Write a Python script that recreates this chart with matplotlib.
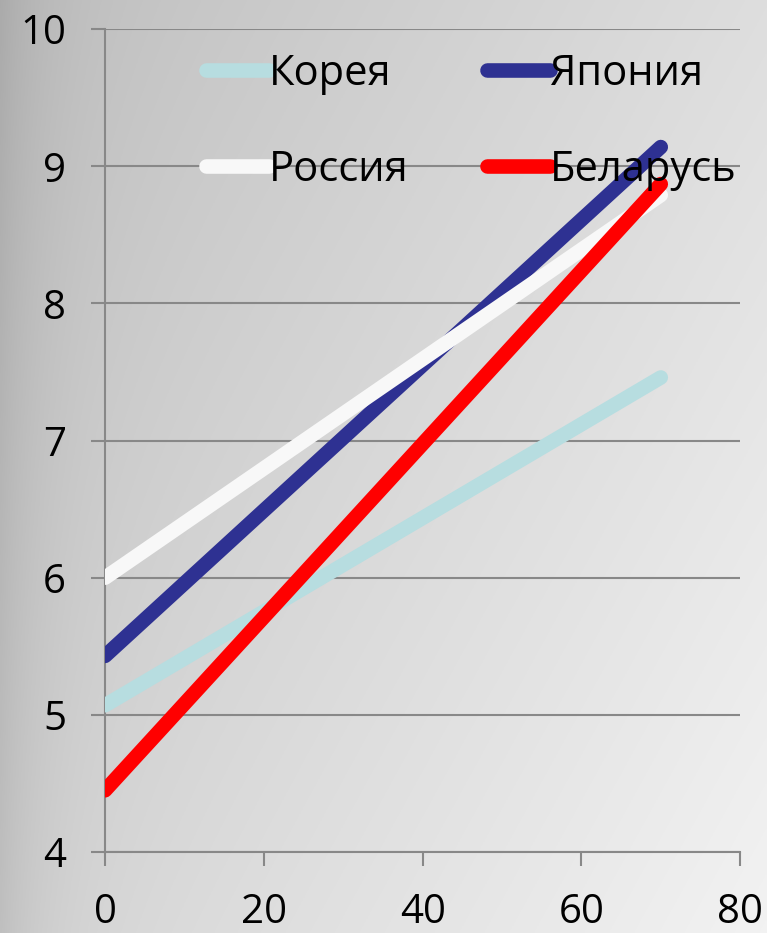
import numpy as np
import matplotlib
matplotlib.use("Agg")
import matplotlib.pyplot as plt
from matplotlib import font_manager

# Series data: value at start (x=0) and at x=70
x_points = [0, 70]
korea = [5.07, 7.46]
japan = [5.43, 9.14]
russia = [6.0, 8.79]
belarus = [4.45, 8.87]

series_names = ["Корея", "Япония", "Россия", "Беларусь"]
series_values = [korea, japan, russia, belarus]
series_colors = ["#b7dde0", "#2e3192", "#f8f8f8", "#ff0000"]

x_ticks = [0, 20, 40, 60, 80]
y_ticks = [4, 5, 6, 7, 8, 9, 10]

available = {f.name for f in font_manager.fontManager.ttflist}
family = [f for f in ["Liberation Sans Narrow", "Open Sans", "DejaVu Sans"] if f in available]
plt.rcParams["font.family"] = family

fig = plt.figure(figsize=(7.67, 9.33), dpi=100)

# gray gradient backdrop
bg = fig.add_axes([0, 0, 1, 1], zorder=-10)
gx, gy = np.meshgrid(np.linspace(0, 1, 400), np.linspace(0, 1, 400))
val = 0.75 + 0.12 * gx + 0.08 * gy
val -= 0.08 * np.exp(-gx / 0.06)
val = np.clip(val, 0, 1)
bg.imshow(np.dstack([val, val, val]), extent=[0, 1, 0, 1], aspect="auto", origin="upper")
bg.set_axis_off()

ax = fig.add_axes([0.137, 0.0868, 0.828, 0.882])
ax.set_facecolor("none")

lines = {}
for name, vals, col in zip(series_names, series_values, series_colors):
    lines[name], = ax.plot(x_points, vals, color=col, lw=10.5, solid_capstyle="round",
                           label=name, zorder=3)

ax.set_xlim(0, 80)
ax.set_ylim(4, 10)
ax.set_xticks(x_ticks)
ax.set_yticks(y_ticks)
ax.set_xticklabels([str(v) for v in x_ticks])
ax.set_yticklabels([str(v) for v in y_ticks])

ax.grid(axis="y", color="#888888", lw=1.5, zorder=1)
for s in ["top", "right"]:
    ax.spines[s].set_visible(False)
for s in ["left", "bottom"]:
    ax.spines[s].set_color("#888888")
    ax.spines[s].set_linewidth(1.5)
ax.tick_params(axis="both", colors="#888888", width=1.5, length=10,
               labelcolor="black", labelsize=29)
ax.tick_params(axis="x", pad=19)
ax.tick_params(axis="y", pad=18)

# legend filled row by row: Корея, Япония / Россия, Беларусь
order = ["Корея", "Россия", "Япония", "Беларусь"]
leg = ax.legend([lines[n] for n in order], order,
                loc="upper left", bbox_to_anchor=(0.1, 1.017), ncol=2,
                frameon=False, fontsize=30, handlelength=1.5, handletextpad=0.0,
                columnspacing=1.9, labelspacing=1.3)
for h in leg.get_lines():
    h.set_linewidth(10.5)
    h.set_solid_capstyle("round")

fig.savefig("out.png", dpi=100)
